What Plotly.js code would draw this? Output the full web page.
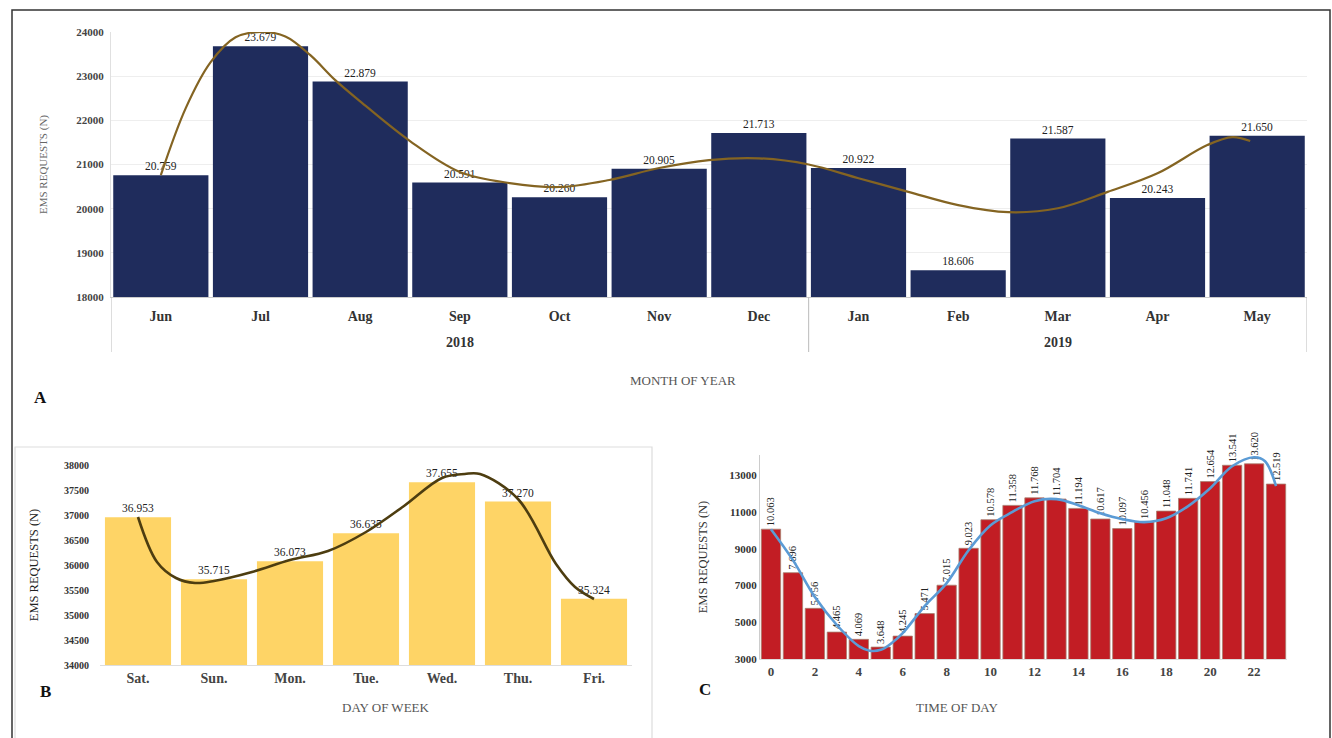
<!DOCTYPE html>
<html><head><meta charset="utf-8">
<script src="https://cdn.plot.ly/plotly-3.0.1.min.js"></script>
<style>html,body{margin:0;padding:0;background:#fff}#chart{width:1332px;height:738px}</style>
</head><body><div id="chart"></div>
<script>
// ---- Panel A: month of year ----
const years = ['2018','2018','2018','2018','2018','2018','2018','2019','2019','2019','2019','2019'];
const months = ['Jun','Jul','Aug','Sep','Oct','Nov','Dec','Jan','Feb','Mar','Apr','May'];
const monthValues = [20759,23679,22879,20591,20260,20905,21713,20922,18606,21587,20243,21650];
const monthTrendX = [0,0.25,0.5,0.75,1,1.25,1.5,1.75,2,2.5,3,3.5,4,4.5,5,5.5,6,6.5,7,7.5,8,8.5,9,9.5,10,10.5,10.75,10.93];
const monthTrendY = [20759,22276,23317,23880,24000,23900,23475,22910,22430,21530,20830,20580,20490,20650,20920,21100,21140,21000,20690,20380,20080,19920,20010,20380,20800,21440,21620,21530];

// ---- Panel B: day of week ----
const days = ['Sat.','Sun.','Mon.','Tue.','Wed.','Thu.','Fri.'];
const dayValues = [36953,35715,36073,36635,37655,37270,35324];
const dayTrendX = [0,0.25,0.5,0.75,1,1.5,2,2.5,3,3.5,4,4.3,4.5,5,5.5,5.75,6];
const dayTrendY = [36960,36060,35740,35640,35680,35860,36100,36280,36660,37180,37740,37820,37820,37320,36020,35560,35320];

// ---- Panel C: time of day ----
const hours = [0,1,2,3,4,5,6,7,8,9,10,11,12,13,14,15,16,17,18,19,20,21,22,23];
const hourValues = [10063,7696,5756,4465,4069,3648,4245,5471,7015,9023,10578,11358,11768,11704,11194,10617,10097,10456,11048,11741,12654,13541,13620,12519];
const hourTickVals = [0,2,4,6,8,10,12,14,16,18,20,22];
const hourTrendX = [0,1,2,3,4,4.5,5,5.5,6,7,8,9,10,11,12,13,14,15,16,17,18,19,20,21,22,22.5,23];
const hourTrendY = [10063,8380,6370,4850,3700,3450,3500,3870,4410,5880,7130,8920,10280,11000,11590,11700,11370,10930,10610,10450,10660,11320,12290,13490,13980,13760,12400];

const SERIF = 'Liberation Serif, Times New Roman, serif';
const W = 1332, H = 738;
const px = v => v / W, py = v => 1 - v / H;
const monthIdx = months.map((m,i)=>i);
const dayIdx = days.map((d,i)=>i);

// year groups (labels + dividers) derived from the years array
const groups = [];
years.forEach((y,i)=>{
  if (!groups.length || groups[groups.length-1].year !== y) groups.push({year:y, start:i, end:i});
  else groups[groups.length-1].end = i;
});
const dividerPos = [groups[0].start - 0.5].concat(groups.map(g => g.end + 0.5));

const traces = [
  { type:'bar', x:monthIdx, y:monthValues, xaxis:'x', yaxis:'y', width:0.955,
    marker:{color:'#1f2c5c', line:{width:0}},
    texttemplate:'%{y:,}', textposition:'outside', cliponaxis:false, constraintext:'none',
    textfont:{family:SERIF, size:11.5, color:'#222'}, hoverinfo:'none' },
  { type:'scatter', mode:'lines', x:monthTrendX, y:monthTrendY, xaxis:'x', yaxis:'y',
    line:{color:'#846422', width:2.2, shape:'spline'}, hoverinfo:'none' },

  { type:'bar', x:dayIdx, y:dayValues, xaxis:'x3', yaxis:'y2', width:0.87,
    marker:{color:'#fed466', line:{width:0}},
    texttemplate:'%{y:,}', textposition:'outside', cliponaxis:false, constraintext:'none',
    textfont:{family:SERIF, size:11.5, color:'#222'}, hoverinfo:'none' },
  { type:'scatter', mode:'lines', x:dayTrendX, y:dayTrendY, xaxis:'x3', yaxis:'y2',
    line:{color:'#4d3d10', width:2.6, shape:'spline'}, hoverinfo:'none' },

  { type:'bar', x:hours, y:hourValues, xaxis:'x4', yaxis:'y3', width:0.88,
    marker:{color:'#c21d24', line:{width:0.8, color:'#a88070'}},
    texttemplate:'%{y:,}', textposition:'outside', textangle:-90, cliponaxis:false, constraintext:'none',
    textfont:{family:SERIF, size:10.5, color:'#222'}, hoverinfo:'none' },
  { type:'scatter', mode:'lines', x:hourTrendX, y:hourTrendY, xaxis:'x4', yaxis:'y3',
    line:{color:'#5b9bd5', width:2.6, shape:'spline'}, hoverinfo:'none' }
];

const tickBold = (size, color) => ({family:SERIF, size:size, color:color, weight:'bold'});

const shapes = [
  {type:'rect', xref:'paper', yref:'paper', x0:px(12), x1:px(1330), y0:-0.05, y1:py(10),
    line:{color:'#333', width:1.5}, layer:'below'},
  {type:'rect', xref:'paper', yref:'paper', x0:px(15), x1:px(652), y0:-0.05, y1:py(447),
    line:{color:'#dddddd', width:1.2}, layer:'below'}
].concat(dividerPos.map(x => ({type:'line', xref:'x', yref:'paper', x0:x, x1:x, y0:py(297), y1:py(352),
    line:{color:'#bbbbbb', width:1}})));

const annotations = [
  {text:'A', x:px(32), y:py(397), xref:'paper', yref:'paper', showarrow:false, font:{family:SERIF, size:17, color:'#111', weight:'bold'}},
  {text:'MONTH OF YEAR', x:px(683), y:py(380), xref:'paper', yref:'paper', showarrow:false, font:{family:SERIF, size:13, color:'#555'}},
  {text:'B', x:px(38), y:py(703), xref:'paper', yref:'paper', showarrow:false, font:{family:SERIF, size:17, color:'#111', weight:'bold'}},
  {text:'DAY OF WEEK', x:px(340), y:py(717), xref:'paper', yref:'paper', showarrow:false, font:{family:SERIF, size:13, color:'#555'}},
  {text:'C', x:px(705), y:py(701), xref:'paper', yref:'paper', showarrow:false, font:{family:SERIF, size:17, color:'#111', weight:'bold'}},
  {text:'TIME OF DAY', x:px(1000), y:py(717), xref:'paper', yref:'paper', showarrow:false, font:{family:SERIF, size:13, color:'#555'}}
].concat(groups.map(g => ({text:g.year, x:(g.start + g.end)/2, xref:'x', y:py(343), yref:'paper',
    showarrow:false, font:tickBold(14,'#333')})));

const layout = {
  width:W, height:H, margin:{l:0,r:0,t:0,b:0}, showlegend:false,
  paper_bgcolor:'#fff', plot_bgcolor:'rgba(0,0,0,0)', separators:',.',
  xaxis:{ domain:[px(111), px(1307)], anchor:'y', range:[-0.5,11.5], tickvals:monthIdx, ticktext:months,
    ticks:'', ticklabelstandoff:6, tickfont:tickBold(14,'#333'), showline:true, linecolor:'#ccc',
    showgrid:false, zeroline:false },
  yaxis:{ domain:[py(297), py(32)], anchor:'x', range:[18000,24000], dtick:1000, tickformat:'d',
    tickfont:tickBold(11,'#444'), gridcolor:'#eeeeee', showline:true, linecolor:'#e0e0e0', ticks:'',
    zeroline:false, ticklabelstandoff:4,
    title:{text:'EMS REQUESTS (N)', font:{family:SERIF, size:11, color:'#666'}, standoff:26} },

  xaxis3:{ domain:[px(100), px(632)], anchor:'y2', range:[-0.5,6.5], tickvals:dayIdx, ticktext:days,
    tickfont:tickBold(14,'#444'), showline:true, linecolor:'#ddd', showgrid:false, ticks:'', zeroline:false },
  yaxis2:{ domain:[py(665), py(465)], anchor:'x3', range:[34000,38000], dtick:500, tickformat:'d',
    tickfont:tickBold(10,'#333'), showgrid:false, showline:false, ticks:'', zeroline:false, ticklabelstandoff:10,
    title:{text:'EMS REQUESTS (N)', font:{family:SERIF, size:12.5, color:'#222'}, standoff:22} },

  xaxis4:{ domain:[px(760), px(1287)], anchor:'y3', range:[-0.5,23.5], tickvals:hourTickVals,
    tickfont:tickBold(13,'#444'), showline:true, linecolor:'#ddd', showgrid:false, ticks:'', zeroline:false },
  yaxis3:{ domain:[py(659), py(455)], anchor:'x4', range:[3000,14100], tickvals:[3000,5000,7000,9000,11000,13000], tickformat:'d',
    tickfont:tickBold(11,'#333'), showgrid:false, showline:true, linecolor:'#ccc', ticks:'', zeroline:false,
    title:{text:'EMS REQUESTS (N)', font:{family:SERIF, size:12.5, color:'#333'}, standoff:18} },

  shapes:shapes,
  annotations:annotations
};

Plotly.newPlot('chart', traces, layout, {displayModeBar:false, staticPlot:true});
</script></body></html>
